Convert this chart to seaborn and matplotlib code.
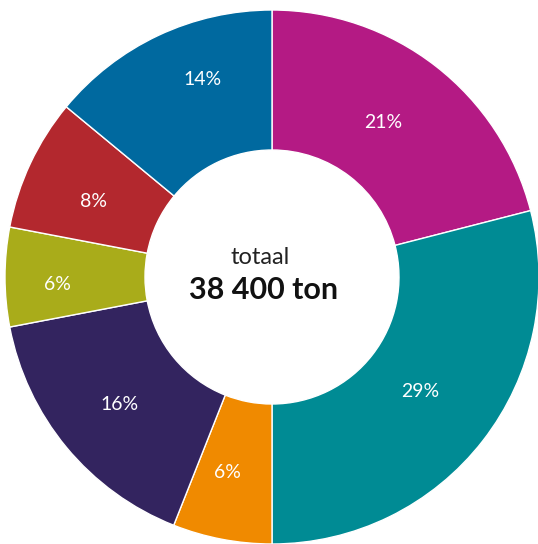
import matplotlib
matplotlib.use("Agg")
import matplotlib.pyplot as plt
import seaborn as sns

sns.set_style("white")
plt.rcParams['font.family'] = ['Lato', 'DejaVu Sans']

categories = ["A", "B", "C", "D", "E", "F", "G"]
values = [21, 29, 6, 16, 6, 8, 14]
labels = ["21%", "29%", "6%", "16%", "6%", "8%", "14%"]
colors = ["#B41A84", "#008B94", "#F08A00", "#33245F", "#A9AC1A", "#B3282E", "#00699F"]
palette = sns.color_palette(colors)

# small manual nudges of label text (pixels), as in the original layout
label_nudges = [(-8, 0), (-6, 5), (-8, -4), (-2, -3), (-20, -7), (-2, -8), (14, 21)]

fig = plt.figure(figsize=(5.38, 5.44), dpi=100)
ax = fig.add_axes([0, 0, 1, 1])

R = 267
inner = 127
wedges, texts = ax.pie(values, colors=palette, startangle=90, counterclock=False,
                       radius=R, center=(0, 0), labels=labels, labeldistance=195 / R,
                       wedgeprops=dict(width=R - inner, edgecolor='white', linewidth=1),
                       textprops=dict(color='white', fontsize=14, ha='center', va='center'),
                       frame=True)
for t, (dx, dy) in zip(texts, label_nudges):
    x, y = t.get_position()
    t.set_position((x + dx, y + dy))

ax.set_xlim(-272, 266)
ax.set_ylim(-267, 277)
ax.set_aspect('equal')
ax.axis('off')

ax.text(-12, 19, "totaal", ha='center', va='center', fontsize=17, color='#222222')
ax.text(-8, -13, "38 400 ton", ha='center', va='center', fontsize=22, fontweight='bold', color='#111111')

fig.savefig("out.png", dpi=100)
